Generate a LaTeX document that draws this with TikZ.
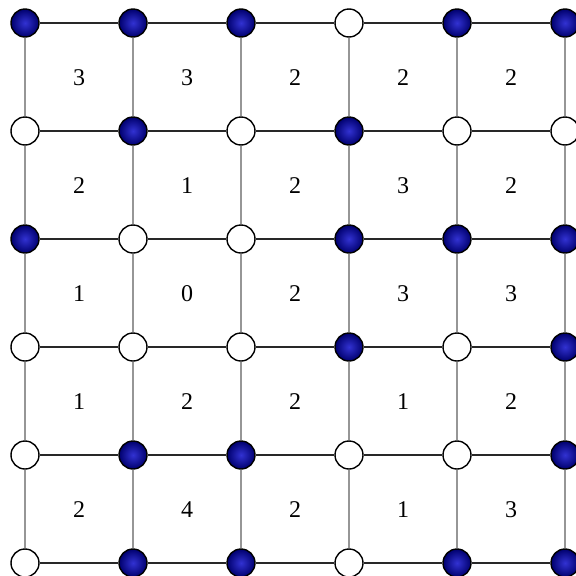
\documentclass[tikz,border=0pt]{standalone}
\usepackage{fontspec}
\setmainfont{Liberation Serif}
\begin{document}
\begin{tikzpicture}[x=1pt,y=-1pt,
  vtx/.style={circle,minimum size=28pt,inner sep=0pt,draw=black,line width=1.4pt},
  on/.style={vtx,shading=radial,inner color={rgb,255:red,50;green,50;blue,210},outer color={rgb,255:red,0;green,0;blue,110}},
  off/.style={vtx,fill=white},
  hedge/.style={draw={rgb,255:red,40;green,40;blue,40},line width=2pt},
  vedge/.style={draw={rgb,255:red,150;green,150;blue,150},line width=2pt},
  num/.style={font=\fontsize{24}{24}\selectfont}]
\useasboundingbox (0,0) rectangle (576,576);
\clip (0,0) rectangle (576,576);
% states row by row
\foreach \row [count=\r from 0] in {{1,1,1,0,1,1},{0,1,0,1,0,0},{1,0,0,1,1,1},{0,0,0,1,0,1},{0,1,1,0,0,1},{0,1,1,0,1,1}}{
  \foreach \s [count=\c from 0] in \row {
    \ifnum\s=1
      \node[on] (n-\c-\r) at ({25+108*\c},{23+108*\r}) {};
    \else
      \node[off] (n-\c-\r) at ({25+108*\c},{23+108*\r}) {};
    \fi
  }
}
% edges
\foreach \r in {0,...,5}{
  \foreach \c [evaluate=\c as \d using int(\c+1)] in {0,...,4}{
    \draw[hedge] (n-\c-\r) -- (n-\d-\r);
  }
}
\foreach \c in {0,...,5}{
  \foreach \r [evaluate=\r as \q using int(\r+1)] in {0,...,4}{
    \draw[vedge] (n-\c-\r) -- (n-\c-\q);
  }
}
% numbers
\foreach \row [count=\r from 0] in {{3,3,2,2,2},{2,1,2,3,2},{1,0,2,3,3},{1,2,2,1,2},{2,4,2,1,3}}{
  \foreach \v [count=\c from 0] in \row {
    \node[num] (m-\c-\r) at ({79+108*\c},{78+108*\r}) {\v};
  }
}
\end{tikzpicture}
\end{document}
